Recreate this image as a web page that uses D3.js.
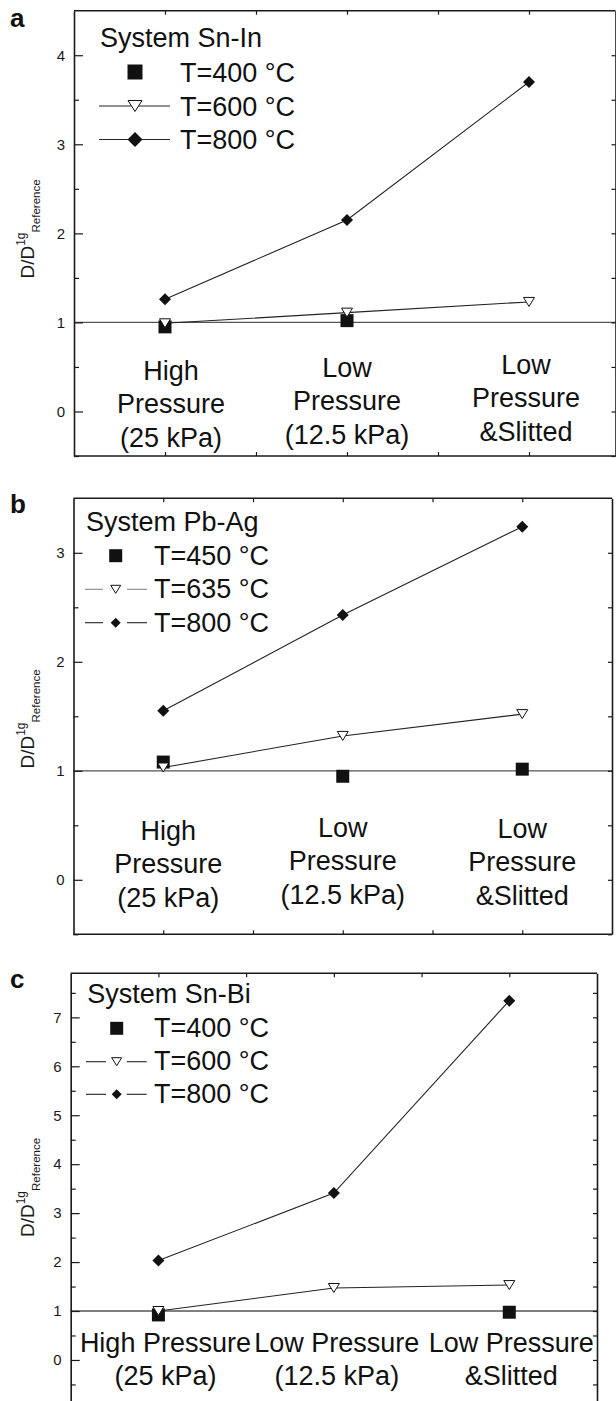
<!DOCTYPE html>
<html>
<head>
<meta charset="utf-8">
<script src="https://cdn.jsdelivr.net/npm/d3@7"></script>
<style>
body { margin: 0; background: #fff; }
svg { display: block; font-family: "Liberation Sans", Arial, sans-serif; }
</style>
</head>
<body>
<svg id="chart" width="616" height="1401"></svg>
<script>
// values (D/D1g_Reference)
var xPos = [1, 2, 3];
var catStacked = [["High", "Pressure", "(25 kPa)"], ["Low", "Pressure", "(12.5 kPa)"], ["Low", "Pressure", "&Slitted"]];
var catWide = [["High Pressure", "(25 kPa)"], ["Low Pressure", "(12.5 kPa)"], ["Low Pressure", "&Slitted"]];

var snInTemps = ["T=400 °C", "T=600 °C", "T=800 °C"];
var snIn400 = [0.95, 1.02, null];
var snIn600 = [0.99, 1.11, 1.23];
var snIn800 = [1.26, 2.15, 3.70];

var pbAgTemps = ["T=450 °C", "T=635 °C", "T=800 °C"];
var pbAg450 = [1.08, 0.95, 1.015];
var pbAg635 = [1.03, 1.32, 1.52];
var pbAg800 = [1.55, 2.43, 3.24];

var snBiTemps = ["T=400 °C", "T=600 °C", "T=800 °C"];
var snBi400 = [0.92, null, 0.975];
var snBi600 = [1.00, 1.47, 1.53];
var snBi800 = [2.03, 3.41, 7.34];

var ticksA = [0, 1, 2, 3, 4];
var ticksB = [0, 1, 2, 3];
var ticksC = [0, 1, 2, 3, 4, 5, 6, 7];
var topTicks = [1, 1.5, 2, 2.5, 3];

var panels = [
    {letter: "a", system: "System Sn-In", temps: snInTemps, series: [snIn400, snIn600, snIn800],
     dom: [-0.5, 4.5], major: ticksA, x0: 74, x1: 620, right: 615.5, top: 10.7, bottom: 456,
     letterY: 26.7, titleY: 229,
     leg: {x: 100, y: 46.7, mx: 135, rows: [72, 106, 139.5], tx: 180, base: 9.5, segs: [[99, 170]], sq: 15, tri: [14, 11], dia: 15, midGray: false},
     cat: {lines: catStacked, y: 380, lh: 33.3, dy: [0, -3, -6], dx: [6, 0, -3]}},
    {letter: "b", system: "System Pb-Ag", temps: pbAgTemps, series: [pbAg450, pbAg635, pbAg800],
     dom: [-0.5, 3.5], major: ticksB, x0: 73.5, x1: 612, right: 612, top: 498.3, bottom: 934.3,
     letterY: 513, titleY: 719,
     leg: {x: 86, y: 531, mx: 115.7, rows: [555.7, 589.3, 622.7], tx: 154, base: 8.8, segs: [[85, 103], [127, 147]], sq: 13, tri: [10, 8], dia: 10, midGray: true},
     cat: {lines: catStacked, y: 840, lh: 33.3, dy: [0, -3, -2], dx: [5, 0, 0]}},
    {letter: "c", system: "System Sn-Bi", temps: snBiTemps, series: [snBi400, snBi600, snBi800],
     dom: [-1, 7.9], major: ticksC, x0: 70.7, x1: 597, right: 597, top: 973.3, bottom: 1408.9,
     letterY: 988, titleY: 1187.5,
     leg: {x: 87.3, y: 1003.3, mx: 116.7, rows: [1028.3, 1061.7, 1094.3], tx: 154, base: 8.5, segs: [[86, 106], [126.7, 146.7]], sq: 13, tri: [10, 8], dia: 10, midGray: false},
     cat: {lines: catWide, y: 1351.7, lh: 33.3, dy: [0, 0, 0], dx: [7, 3, 2]}}
];

var svg = d3.select("#chart");
var ink = "#1a1a1a";

function squarePath(s) {
    var h = s / 2;
    return "M" + (-h) + "," + (-h) + "H" + h + "V" + h + "H" + (-h) + "Z";
}
function diamondPath(s) {
    var r = s / 2;
    return "M0," + (-r) + "L" + r + ",0L0," + r + "L" + (-r) + ",0Z";
}
function triPath(w, h) {
    // downward triangle, box centered
    return "M" + (-w / 2) + "," + (-h / 2) + "H" + (w / 2) + "L0," + (h / 2) + "Z";
}

function drawMarker(g, kind, cx, cy, sizes) {
    var p = g.append("path").attr("transform", "translate(" + cx + "," + cy + ")");
    if (kind === 0) p.attr("d", squarePath(sizes.sq)).attr("fill", "#111");
    if (kind === 1) p.attr("d", triPath(sizes.tri[0], sizes.tri[1])).attr("fill", "#fff").attr("stroke", "#111").attr("stroke-width", 1);
    if (kind === 2) p.attr("d", diamondPath(sizes.dia)).attr("fill", "#111");
}

function styleAxis(sel) {
    sel.selectAll("path.domain").attr("stroke", ink).attr("stroke-width", 1.6);
    sel.selectAll(".tick line").attr("stroke", ink).attr("stroke-width", 1.2);
    sel.selectAll(".tick text").attr("font-size", 15).attr("fill", ink)
        .attr("font-family", "'Liberation Sans', Arial, sans-serif");
}

panels.forEach(function(p) {
    var g = svg.append("g");
    var x = d3.scaleLinear().domain([0.5, 3.5]).range([p.x0, p.x1]);
    var y = d3.scaleLinear().domain(p.dom).range([p.bottom, p.top]);
    var minor = d3.range(Math.ceil(p.dom[0] * 2) / 2, p.dom[1], 0.5).filter(function(v) { return v % 1 !== 0; });

    // reference line at 1
    g.append("line")
        .attr("x1", p.x0).attr("x2", p.right)
        .attr("y1", y(1)).attr("y2", y(1))
        .attr("stroke", "#555").attr("stroke-width", 1.3);

    // left axis
    var left = g.append("g").attr("transform", "translate(" + p.x0 + ",0)")
        .call(d3.axisLeft(y).tickValues(p.major).tickSizeInner(-9).tickSizeOuter(0).tickPadding(9).tickFormat(d3.format("d")));
    styleAxis(left);
    var leftMinor = g.append("g").attr("transform", "translate(" + p.x0 + ",0)")
        .call(d3.axisLeft(y).tickValues(minor).tickSizeInner(-5).tickSizeOuter(0).tickFormat(""));
    styleAxis(leftMinor);
    leftMinor.select("path.domain").remove();

    // right axis
    var right = g.append("g").attr("transform", "translate(" + p.right + ",0)")
        .call(d3.axisRight(y).tickValues(p.major.concat(minor)).tickSizeInner(-4).tickSizeOuter(0).tickFormat(""));
    styleAxis(right);

    // top / bottom
    var topAx = g.append("g").attr("transform", "translate(0," + p.top + ")")
        .call(d3.axisTop(x).tickValues(topTicks).tickSizeInner(-4).tickSizeOuter(0).tickFormat(""));
    styleAxis(topAx);
    topAx.select("path.domain").attr("d", "M" + p.x0 + ",0H" + p.right);
    var botAx = g.append("g").attr("transform", "translate(0," + p.bottom + ")")
        .call(d3.axisBottom(x).tickValues(topTicks).tickSizeInner(-4).tickSizeOuter(0).tickFormat(""));
    styleAxis(botAx);
    botAx.select("path.domain").attr("d", "M" + p.x0 + ",0H" + p.right);

    // panel letter
    g.append("text").attr("x", 10).attr("y", p.letterY)
        .attr("font-size", 26).attr("font-weight", "bold").attr("fill", "#111").text(p.letter);

    // y title
    var t = g.append("text")
        .attr("transform", "translate(34," + p.titleY + ") rotate(-90)")
        .attr("text-anchor", "middle").attr("fill", ink);
    t.append("tspan").attr("font-size", 19).text("D/D");
    t.append("tspan").attr("font-size", 12).attr("dy", -9).text("1g");
    t.append("tspan").attr("font-size", 11.5).attr("dy", 15).text("Reference");

    // category labels
    p.cat.lines.forEach(function(lines, i) {
        lines.forEach(function(s, j) {
            g.append("text")
                .attr("x", x(xPos[i]) + p.cat.dx[i])
                .attr("y", p.cat.y + p.cat.dy[i] + j * p.cat.lh)
                .attr("text-anchor", "middle").attr("font-size", 27).attr("fill", "#111")
                .text(s);
        });
    });

    // data
    var dataSizes = {sq: 13, tri: [11, 9], dia: 12};
    var lineGen = d3.line()
        .defined(function(d) { return d != null; })
        .x(function(d, i) { return x(xPos[i]); })
        .y(function(d) { return y(d); });
    p.series.forEach(function(vals, k) {
        if (k > 0) {
            g.append("path").attr("d", lineGen(vals))
                .attr("fill", "none").attr("stroke", "#222").attr("stroke-width", 1.1);
        }
    });
    p.series.forEach(function(vals, k) {
        vals.forEach(function(v, i) {
            if (v == null) return;
            drawMarker(g, k, x(xPos[i]), y(v), dataSizes);
        });
    });

    // legend
    var L = p.leg;
    g.append("text").attr("x", L.x).attr("y", L.y).attr("font-size", 27).attr("fill", "#111").text(p.system);
    p.temps.forEach(function(label, k) {
        var cy = L.rows[k];
        if (k > 0) {
            L.segs.forEach(function(s) {
                g.append("line").attr("x1", s[0]).attr("x2", s[1]).attr("y1", cy).attr("y2", cy)
                    .attr("stroke", (k === 1 && L.midGray) ? "#888" : "#222").attr("stroke-width", 1.1);
            });
        }
        drawMarker(g, k, L.mx, cy, L);
        g.append("text").attr("x", L.tx).attr("y", cy + L.base)
            .attr("font-size", 27).attr("fill", "#111").text(label);
    });
});
</script>
</body>
</html>
